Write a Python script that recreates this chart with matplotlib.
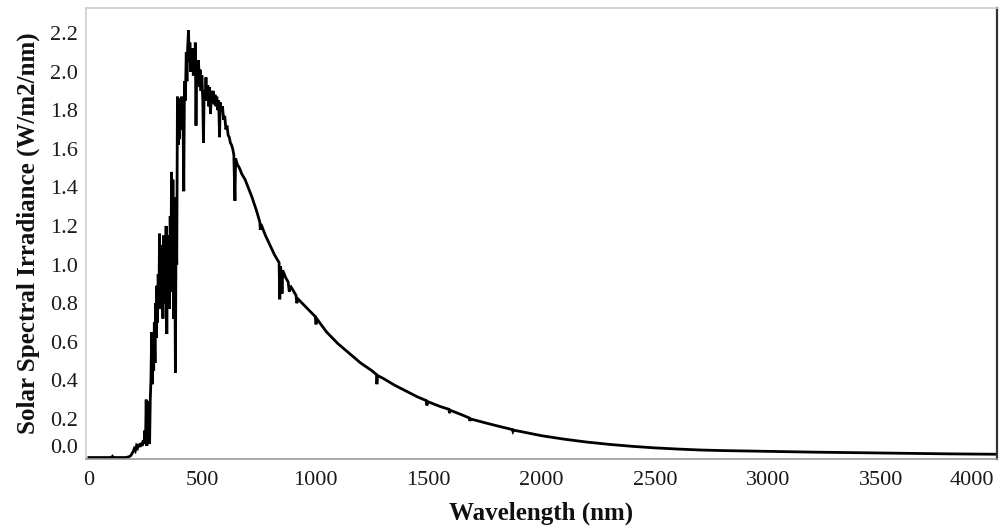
import matplotlib
matplotlib.use("Agg")
import matplotlib.pyplot as plt

# Wavelength (nm) and solar spectral irradiance (W/m2/nm)
wavelength = [
    0, 100, 104, 108, 160, 175, 185, 195, 200, 205, 210, 215, 220, 225, 230, 235, 240, 244,
    247, 250, 253, 256, 259, 262, 265, 268, 271, 274, 277, 280, 283, 286, 289, 292, 295, 298,
    300, 303, 306, 309, 312, 315, 318, 321, 324, 327, 329, 332, 335, 338, 341, 344, 347, 350,
    353, 356, 359, 362, 365, 368, 371, 374, 377, 380, 382, 385, 388, 391, 394, 397, 400, 403,
    406, 409, 412, 415, 419, 422, 426, 430, 433, 436, 440, 443, 446, 449, 452, 455, 458, 461,
    464, 467, 470, 473, 476, 480, 484, 488, 491, 495, 499, 503, 506, 509, 513, 517, 521, 525,
    529, 533, 537, 541, 545, 549, 553, 557, 561, 565, 569, 573, 577, 580, 585, 590, 595, 600,
    605, 610, 615, 620, 625, 630, 635, 640, 645, 648, 655, 665, 675, 690, 700, 720, 740, 755,
    757, 760, 780, 800, 820, 840, 843, 846, 850, 853, 856, 870, 880, 885, 890, 900, 915, 918,
    925, 950, 975, 1000, 1003, 1006, 1050, 1100, 1130, 1200, 1250, 1270, 1272, 1275, 1300,
    1350, 1400, 1450, 1490, 1493, 1496, 1550, 1590, 1593, 1596, 1650, 1680, 1683, 1686, 1750,
    1800, 1870, 1873, 1876, 1950, 2000, 2100, 2200, 2300, 2400, 2500, 2600, 2700, 2800, 2900,
    3000, 3200, 3400, 3600, 3800, 4000, 4011,
]
irradiance = [
    0, 0, 0.006, 0, 0, 0.003, 0.01, 0.03, 0.045, 0.035, 0.06, 0.05, 0.07, 0.055, 0.075, 0.06, 0.09, 0.07,
    0.14, 0.08, 0.30, 0.06, 0.22, 0.10, 0.29, 0.07, 0.30, 0.40, 0.65, 0.38, 0.60, 0.45, 0.70, 0.49, 0.80, 0.62,
    0.89, 0.70, 0.95, 0.78, 1.16, 0.77, 1.10, 0.85, 1.05, 0.72, 1.15, 0.90, 1.05, 0.80, 1.20, 0.64, 1.10, 0.85,
    1.15, 0.77, 1.25, 0.95, 1.48, 0.86, 1.44, 0.72, 1.35, 0.90, 0.44, 1.20, 1.00, 1.87, 1.62, 1.80, 1.65, 1.86,
    1.70, 1.87, 1.70, 1.82, 1.38, 1.95, 1.85, 2.10, 1.95, 2.12, 2.215, 2.05, 2.15, 2.00, 2.11, 2.03, 2.12, 1.98,
    2.08, 2.00, 2.15, 1.72, 2.05, 1.95, 2.06, 1.92, 2.01, 1.90, 1.98, 1.85, 1.63, 1.90, 1.85, 1.97, 1.85, 1.93,
    1.82, 1.92, 1.78, 1.90, 1.84, 1.90, 1.83, 1.88, 1.82, 1.87, 1.80, 1.85, 1.66, 1.84, 1.80, 1.82, 1.75, 1.77,
    1.70, 1.72, 1.67, 1.66, 1.63, 1.62, 1.60, 1.57, 1.33, 1.55, 1.52, 1.50, 1.47, 1.44, 1.41, 1.35, 1.28, 1.22,
    1.18, 1.21, 1.15, 1.10, 1.05, 1.01, 0.82, 0.99, 0.96, 0.85, 0.97, 0.93, 0.91, 0.86, 0.89, 0.87, 0.84, 0.80,
    0.82, 0.79, 0.76, 0.73, 0.69, 0.72, 0.65, 0.59, 0.56, 0.49, 0.45, 0.43, 0.38, 0.425, 0.41,
    0.375, 0.345, 0.315, 0.295, 0.27, 0.29, 0.265, 0.25, 0.23, 0.245, 0.22, 0.205, 0.19, 0.20, 0.18,
    0.165, 0.145, 0.135, 0.142, 0.125, 0.113, 0.095, 0.08, 0.068, 0.058, 0.05, 0.044, 0.039, 0.036, 0.034,
    0.032, 0.028, 0.025, 0.022, 0.019, 0.017, 0.017,
]

x_ticks = [0, 500, 1000, 1500, 2000, 2500, 3000, 3500, 4000]
y_ticks = [0.0, 0.2, 0.4, 0.6, 0.8, 1.0, 1.2, 1.4, 1.6, 1.8, 2.0, 2.2]

plt.rcParams['font.family'] = ['Liberation Serif', 'DejaVu Serif']

fig = plt.figure(figsize=(10.02, 5.32), dpi=100)
ax = fig.add_axes([0.0858, 0.1378, 0.9092, 0.8481])

ax.plot(wavelength, irradiance, color='black', lw=2.0, solid_joinstyle='miter')

ax.set_xlim(-13, 4011)
ax.set_ylim(-0.006, 2.332)
ax.set_xticks(x_ticks)
ax.set_xticklabels([str(v) for v in x_ticks])
ax.set_yticks(y_ticks)
ax.set_yticklabels([f"{v:.1f}" for v in y_ticks])
ax.tick_params(axis='both', length=0, labelsize=16, colors='#1a1a1a')
ax.tick_params(axis='x', pad=9)
ax.tick_params(axis='y', pad=6)

# edge labels kept inside the frame
ax.get_yticklabels()[0].set_va('bottom')
ax.get_xticklabels()[-1].set_ha('right')

ax.spines['top'].set_color('#cccccc')
ax.spines['left'].set_color('#cccccc')
ax.spines['bottom'].set_color('#999999')
ax.spines['right'].set_color('#333333')
ax.spines['right'].set_linewidth(1.6)
for s in ['top', 'left', 'bottom']:
    ax.spines[s].set_linewidth(1.2)

ax.set_xlabel('Wavelength (nm)', fontsize=18, fontweight='bold', labelpad=8, color='#111111')
ax.set_ylabel('Solar Spectral Irradiance (W/m2/nm)', fontsize=18, fontweight='bold', labelpad=7, color='#111111')

fig.savefig('out.png', dpi=100)
